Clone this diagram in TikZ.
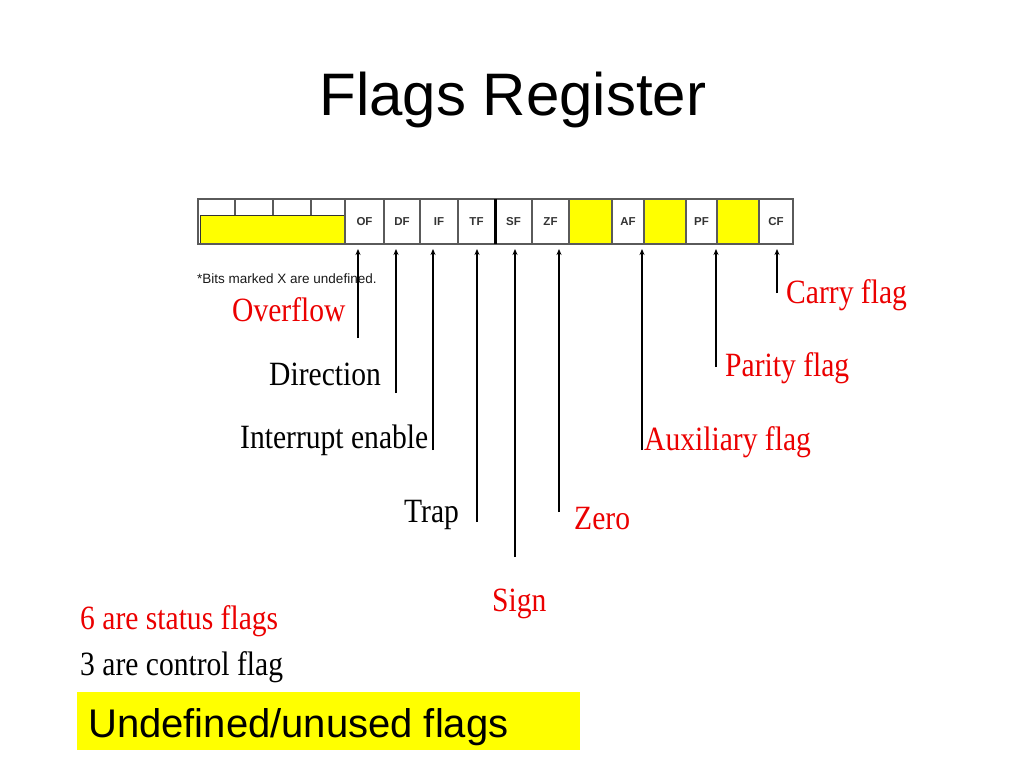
\documentclass[tikz,border=0pt]{standalone}
\usepackage{fontspec}
\setmainfont{Liberation Serif}
\setsansfont{Liberation Sans}
\newfontfamily\lblfont[FakeStretch=0.87]{Liberation Serif}
\usetikzlibrary{arrows.meta}
\definecolor{regred}{RGB}{235,0,0}
\definecolor{regyellow}{RGB}{255,255,0}
\definecolor{framegray}{RGB}{90,90,90}
\tikzset{
  lbl/.style={font=\lblfont\fontsize{34}{36}\selectfont, anchor=base west, inner sep=0pt, text=black},
  redlbl/.style={lbl, text=regred},
  cell/.style={draw=framegray, line width=1.2pt, minimum height=45pt, inner sep=0pt,
    font=\sffamily\bfseries\fontsize{11.5}{12}\selectfont, text=black!80},
  ycell/.style={cell, fill=regyellow},
  ptr/.style={line width=1.8pt, -{Stealth[length=6pt,width=5pt]}},
}
\begin{document}
\begin{tikzpicture}[x=1pt,y=-1pt]
\useasboundingbox (0,0) rectangle (1024,768);
% title
\node[font=\sffamily\fontsize{60}{72}\selectfont, anchor=base, inner sep=0pt] (title) at (513,115) {Flags Register};
% register cells
\node[cell, minimum width=147pt] (X) at (271.5,221.5) {};
\fill[regyellow, draw=black!80, line width=0.8pt] (200,215) rectangle (345,243.5);
\foreach \xx in {235,273,311} \draw[framegray, line width=1.2pt] (\xx,199) -- (\xx,215);
\node[cell, minimum width=39pt] (OF) at (364.5,221.5) {OF};
\node[cell, minimum width=36pt] (DF) at (402,221.5) {DF};
\node[cell, minimum width=38pt] (IF) at (439,221.5) {IF};
\node[cell, minimum width=37pt] (TF) at (476.5,221.5) {TF};
\node[cell, minimum width=37pt] (SF) at (513.5,221.5) {SF};
\node[cell, minimum width=37pt] (ZF) at (550.5,221.5) {ZF};
\node[ycell, minimum width=43pt] (Y1) at (590.5,221.5) {};
\node[cell, minimum width=32pt] (AF) at (628,221.5) {AF};
\node[ycell, minimum width=42pt] (Y2) at (665,221.5) {};
\node[cell, minimum width=31pt] (PF) at (701.5,221.5) {PF};
\node[ycell, minimum width=42pt] (Y3) at (738,221.5) {};
\node[cell, minimum width=34pt] (CF) at (776,221.5) {CF};
\draw[framegray, line width=2pt] (198,199) rectangle (793,244);
\draw[black, line width=3pt] (495,199) -- (495,244);
% note
\node[font=\sffamily\fontsize{13.5}{14}\selectfont, anchor=base west, inner sep=0pt, text=black!90] (note) at (197,283) {*Bits marked X are undefined.};
% pointer coordinates
\coordinate (tOF) at (358,249); \coordinate (eOF) at (358,338);
\coordinate (tDF) at (396,249); \coordinate (eDF) at (396,393);
\coordinate (tIF) at (433,249); \coordinate (eIF) at (433,450);
\coordinate (tTF) at (477,249); \coordinate (eTF) at (477,522);
\coordinate (tSF) at (515,249); \coordinate (eSF) at (515,557);
\coordinate (tZF) at (559,249); \coordinate (eZF) at (559,512);
\coordinate (tAF) at (642,249); \coordinate (eAF) at (642,450);
\coordinate (tPF) at (716,249); \coordinate (ePF) at (716,367);
\coordinate (tCF) at (777,249); \coordinate (eCF) at (777,293);
\foreach \f in {OF,DF,IF,TF,SF,ZF,PF,CF} \draw[ptr] (e\f) -- (t\f);
\draw[ptr, line width=1.3pt] (eAF) -- (tAF);
% labels
\node[redlbl] (lOF) at (232,321) {Overflow};
\node[lbl] (lDF) at (269,385) {Direction};
\node[lbl] (lIF) at (240,448) {Interrupt enable};
\node[lbl] (lTF) at (404,522) {Trap};
\node[redlbl] (lSF) at (492,611) {Sign};
\node[redlbl] (lZF) at (574,529) {Zero};
\node[redlbl] (lAF) at (644,450) {Auxiliary flag};
\node[redlbl] (lPF) at (725,376) {Parity flag};
\node[redlbl] (lCF) at (786,303) {Carry flag};
\node[redlbl] (status) at (80,629) {6 are status flags};
\node[lbl] (control) at (80,675) {3 are control flag};
% legend
\fill[regyellow] (77,692) rectangle (580,750);
\node[font=\sffamily\fontsize{40}{48}\selectfont, anchor=base west, inner sep=0pt] (legend) at (88,737) {Undefined/unused flags};
\end{tikzpicture}
\end{document}
